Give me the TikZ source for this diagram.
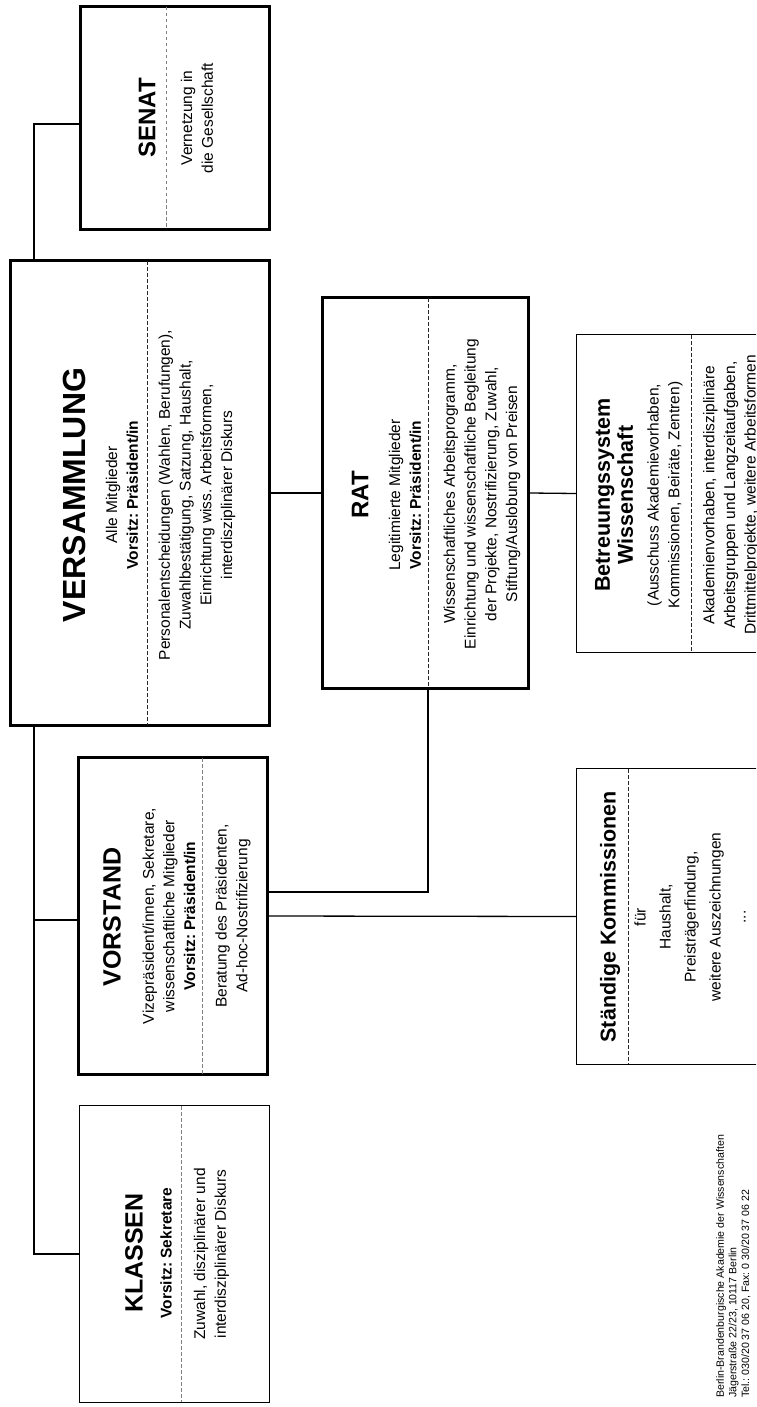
\documentclass[tikz,border=0pt]{standalone}
\usepackage{fontspec}
\setmainfont{Liberation Sans}
\frenchspacing
\begin{document}
\begin{tikzpicture}[x=1pt,y=-1pt,
  bigbox/.style={draw, line width=3pt, fill=white, inner sep=0pt},
  thinbox/.style={draw, line width=1.3pt, fill=white, inner sep=0pt},
  conn/.style={line width=1.3pt},
  divb/.style={line width=0.8pt, dash pattern=on 3.5pt off 2.5pt, black!85},
  divg/.style={line width=0.8pt, dash pattern=on 3.5pt off 2.5pt, black!50},
  txt/.style={rotate=90, align=center, inner sep=0pt, font=\frenchspacing\fontsize{15.5}{20.7}\selectfont},
  ttl/.style={rotate=90, align=center, inner sep=0pt, font=\bfseries\fontsize{#1}{#1}\selectfont},
  ttl/.default=24,
  foot/.style={rotate=90, align=left, inner sep=0pt, font=\frenchspacing\fontsize{10.6}{12.6}\selectfont}]
\useasboundingbox (0,0) rectangle (756,1407);
\clip (0,0) rectangle (756,1407);
\fill[white] (0,0) rectangle (756,1407);

% boxes
\node[bigbox, minimum width=189pt, minimum height=223pt] (senat) at (175,118) {};
\node[bigbox, minimum width=259pt, minimum height=465pt] (vers) at (140,493) {};
\node[bigbox, minimum width=189pt, minimum height=317pt] (vorstand) at (173,916) {};
\node[thinbox, minimum width=190pt, minimum height=297pt] (klassen) at (174.5,1254) {};
\node[bigbox, minimum width=206pt, minimum height=391pt] (rat) at (425.5,493) {};
\node[thinbox, minimum width=223pt, minimum height=318pt] (betr) at (688,493.5) {};
\node[thinbox, minimum width=223pt, minimum height=296pt] (staendig) at (688,916.5) {};

% connectors
\coordinate (tk) at (34,0);
\coordinate (sw) at ([yshift=-6pt]senat.west);
\coordinate (vw) at ([yshift=-4pt]vorstand.west);
\coordinate (ve) at ([yshift=24pt]vorstand.east);
\coordinate (rs) at ([xshift=2.5pt]rat.south);
\draw[conn] (sw) -| (tk |- vers.north);
\draw[conn] (tk |- vers.south) |- (klassen.west);
\draw[conn] (tk |- vw) -- (vw);
\draw[conn] (vers.east) -- (rat.west);
\draw[conn] (rat.east) -- (betr.west);
\draw[conn] (rs) |- (ve);
\draw[conn] (vorstand.east) -- (staendig.west);

% dividers
\draw[divg] (166,7) -- (166,229);
\draw[divb] (147,261) -- (147,725);
\draw[divg] (202,758) -- (202,1074);
\draw[divg] (181,1106) -- (181,1402);
\draw[divb] (428,298) -- (428,688);
\draw[divb] (691,335) -- (691,652);
\draw[divb] (628,769) -- (628,1064);

% SENAT
\node[ttl=24] (senatT) at (147,118) {SENAT};
\node[txt] (senatB) at (197,118) {Vernetzung in\\die Gesellschaft};

% VERSAMMLUNG
\node[ttl=32] (versT) at (74,495) {VERSAMMLUNG};
\node[txt] (versS) at (122,495) {Alle Mitglieder\\\textbf{Vorsitz: Präsident/in}};
\node[txt] (versB) at (197,495) {Personalentscheidungen (Wahlen, Berufungen),\\Zuwahlbestätigung, Satzung, Haushalt,\\Einrichtung wiss. Arbeitsformen,\\interdisziplinärer Diskurs};

% VORSTAND
\node[ttl=25] (vorT) at (112,917) {VORSTAND};
\node[txt] (vorS) at (169,916) {Vizepräsident/innen, Sekretare,\\wissenschaftliche Mitglieder\\\textbf{Vorsitz: Präsident/in}};
\node[txt] (vorB) at (233,916) {Beratung des Präsidenten,\\Ad-hoc-Nostrifizierung};

% KLASSEN
\node[ttl=25] (klT) at (134,1253) {KLASSEN};
\node[txt, font=\frenchspacing\bfseries\fontsize{15.5}{20.7}\selectfont] (klS) at (166,1253) {Vorsitz: Sekretare};
\node[txt] (klB) at (211.5,1254) {Zuwahl, disziplinärer und\\interdisziplinärer Diskurs};

% RAT
\node[ttl=24] (ratT) at (360,495) {RAT};
\node[txt] (ratS) at (405,495) {Legitimierte Mitglieder\\\textbf{Vorsitz: Präsident/in}};
\node[txt] (ratB) at (482,494) {Wissenschaftliches Arbeitsprogramm,\\Einrichtung und wissenschaftliche Begleitung\\der Projekte, Nostrifizierung, Zuwahl,\\Stiftung/Auslobung von Preisen};

% Betreuungssystem
\node[rotate=90, align=center, inner sep=0pt, font=\bfseries\fontsize{21.5}{23}\selectfont] (beT) at (614,495) {Betreuungssystem\\Wissenschaft};
\node[txt] (beS) at (665,495) {(Ausschuss Akademievorhaben,\\Kommissionen, Beiräte, Zentren)};
\node[txt] (beB) at (731,495) {Akademienvorhaben, interdisziplinäre\\Arbeitsgruppen und Langzeitaufgaben,\\Drittmittelprojekte, weitere Arbeitsformen};

% Ständige Kommissionen
\node[ttl=21.5] (stT) at (610,917) {Ständige Kommissionen};
\node[rotate=90, align=center, inner sep=0pt, font=\fontsize{15.5}{25}\selectfont] (stB) at (690,917) {für\\Haushalt,\\Preisträgerfindung,\\weitere Auszeichnungen\\...};

% footer
\node[foot, anchor=north west] (foot) at (716,1398) {Berlin-Brandenburgische Akademie der Wissenschaften\\Jägerstraße 22/23, 10117 Berlin\\Tel.: 030/20 37 06 20, Fax: 0 30/20 37 06 22};
\end{tikzpicture}
\end{document}
